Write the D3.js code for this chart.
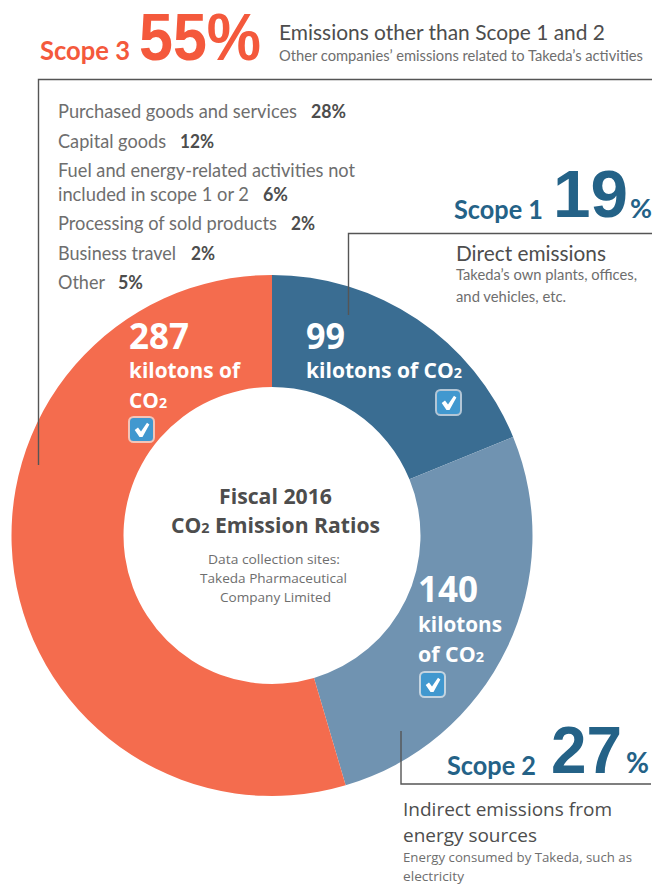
<!DOCTYPE html>
<html><head><meta charset="utf-8">
<script src="https://cdnjs.cloudflare.com/ajax/libs/d3/7.8.5/d3.min.js"></script>
<style>html,body{margin:0;padding:0;background:#fff}svg{display:block}text{font-family:"Open Sans",sans-serif}.cal{font-family:Lato,sans-serif}.big{font-family:"Liberation Sans",sans-serif}</style>
</head><body><svg id="c" width="665" height="885"></svg>
<script>
const scopes = ["Scope 1", "Scope 2", "Scope 3"];
const kilotons = [99, 140, 287];
const sliceColors = ["#3a6d92", "#7093b1", "#f46c4e"];
const scope3Items = ["Purchased goods and services", "Capital goods", "Processing of sold products", "Business travel", "Other"];
const scope3Shares = ["28%", "12%", "2%", "2%", "5%"];

const svg = d3.select("#c");
const cx = 272, cy = 535.5, R = 260.5, r = 148.5;
const pie = d3.pie().sort(null).value(d => d);
const arc = d3.arc().innerRadius(r).outerRadius(R);
svg.append("g").attr("transform", `translate(${cx},${cy})`)
  .selectAll("path").data(pie(kilotons)).join("path")
  .attr("d", arc).attr("fill", (d, i) => sliceColors[i]);

const LINE = "#555";
const poly = pts => svg.append("path").attr("d", d3.line()(pts)).attr("fill", "none").attr("stroke", LINE).attr("stroke-width", 1.4);
poly([[38.5, 465], [38.5, 79.5], [652, 79.5]]);
poly([[348.5, 315], [348.5, 233.5], [652, 233.5]]);
poly([[401, 731], [401, 784], [651, 784]]);

function T(s, x, y, size, weight, fill, width, cls) {
  const t = svg.append("text").attr("x", x).attr("y", y).attr("font-size", size)
    .attr("font-weight", weight).attr("fill", fill);
  if (cls) t.attr("class", cls);
  const parts = s.split("CO2");
  parts.forEach((p, i) => {
    if (i > 0) {
      t.append("tspan").text("CO");
      t.append("tspan").text("2").attr("font-size", size * 0.68);
    }
    if (p) t.append("tspan").text(p);
  });
  if (width) t.attr("textLength", width).attr("lengthAdjust", "spacingAndGlyphs");
  return t;
}
const ORANGE = "#f4593c", BLUE = "#246287", DARK = "#4d4d4d", GREY = "#6e6e6e";

// Scope 3 header
T(scopes[2], 40, 60, 27, 700, ORANGE, 90, "cal");
T("55%", 139, 60, 66, 700, ORANGE, 122, "big");
T("Emissions other than Scope 1 and 2", 279, 40, 21, 400, DARK, 326, "cal");
T("Other companies\u2019 emissions related to Takeda\u2019s activities", 279, 61, 15.5, 400, GREY, 364, "cal");

// Scope 3 list
const ys = [118, 148, 230, 260, 289];
const lw = [239, 108, 219, 118, 47];
const vx = [311, 180, 291, 191, 118];
const vw = [35, 34, 24, 24, 25];
scope3Items.forEach((s, i) => {
  T(s, 58, ys[i], 19, 400, GREY, lw[i], "cal");
  T(scope3Shares[i], vx[i], ys[i], 19, 700, DARK, vw[i], "cal");
});
T("Fuel and energy-related activities not", 58, 177, 19, 400, GREY, 297, "cal");
T("included in scope 1 or 2", 58, 201, 19, 400, GREY, 191, "cal");
T("6%", 263, 201, 19, 700, DARK, 25, "cal");

// Scope 1
T(scopes[0], 454, 219, 27, 700, BLUE, 89, "cal");
T("19", 553, 217, 66, 700, BLUE, 75, "big");
T("%", 630, 218, 27, 700, BLUE, 22, "cal");
T("Direct emissions", 456, 261, 21, 400, DARK, 150, "cal");
T("Takeda\u2019s own plants, offices,", 456, 280, 14.5, 400, GREY, 181, "cal");
T("and vehicles, etc.", 456, 302, 14.5, 400, GREY, 110, "cal");

// Scope 2
T(scopes[1], 447, 775, 27, 700, BLUE, 89, "cal");
T("27", 551, 773, 66, 700, BLUE, 71, "big");
T("%", 626, 773, 28, 700, BLUE, 23, "cal");
T("Indirect emissions from", 403, 816, 19, 400, DARK, 209);
T("energy sources", 403, 842, 19, 400, DARK, 134);
T("Energy consumed by Takeda, such as", 403, 862, 13, 400, GREY, 229);
T("electricity", 403, 881, 13, 400, GREY, 61);

// Values in slices
T(String(kilotons[2]), 129, 349, 35, 700, "#fff", 60);
T("kilotons of", 129, 378, 21, 700, "#fff", 111);
T("CO2", 129, 408, 21, 700, "#fff", 38);
T(String(kilotons[0]), 306, 349, 35, 700, "#fff", 39);
T("kilotons of CO2", 306, 378, 21, 700, "#fff", 156);
T(String(kilotons[1]), 418, 602, 35, 700, "#fff", 60);
T("kilotons", 418, 632, 21, 700, "#fff", 84);
T("of CO2", 418, 662, 21, 700, "#fff", 66);

// Centre
T("Fiscal 2016", 219, 504, 21, 700, DARK, 113);
T("CO2 Emission Ratios", 171, 533, 21, 700, DARK, 209);
T("Data collection sites:", 208, 564, 13, 400, GREY, 132);
T("Takeda Pharmaceutical", 200, 583, 13, 400, GREY, 147);
T("Company Limited", 220, 602, 13, 400, GREY, 111);

// Check boxes
function check(x, y, stroke) {
  const g = svg.append("g").attr("transform", `translate(${x},${y})`);
  g.append("rect").attr("x", 1).attr("y", 1).attr("width", 25).attr("height", 25).attr("rx", 4.5)
    .attr("fill", "#4198cf").attr("stroke", stroke).attr("stroke-width", 2);
  g.append("path").attr("d", "M6.7 14 L10 11.5 L13 15.5 L19 6.7 L21.4 8.5 L14.5 21 L11.5 21 Z").attr("fill", "#fff");
}
check(128, 416, "#f3c4b8");
check(435, 389, "#b3c6d6");
check(419, 671, "#c4d4e0");
</script></body></html>
